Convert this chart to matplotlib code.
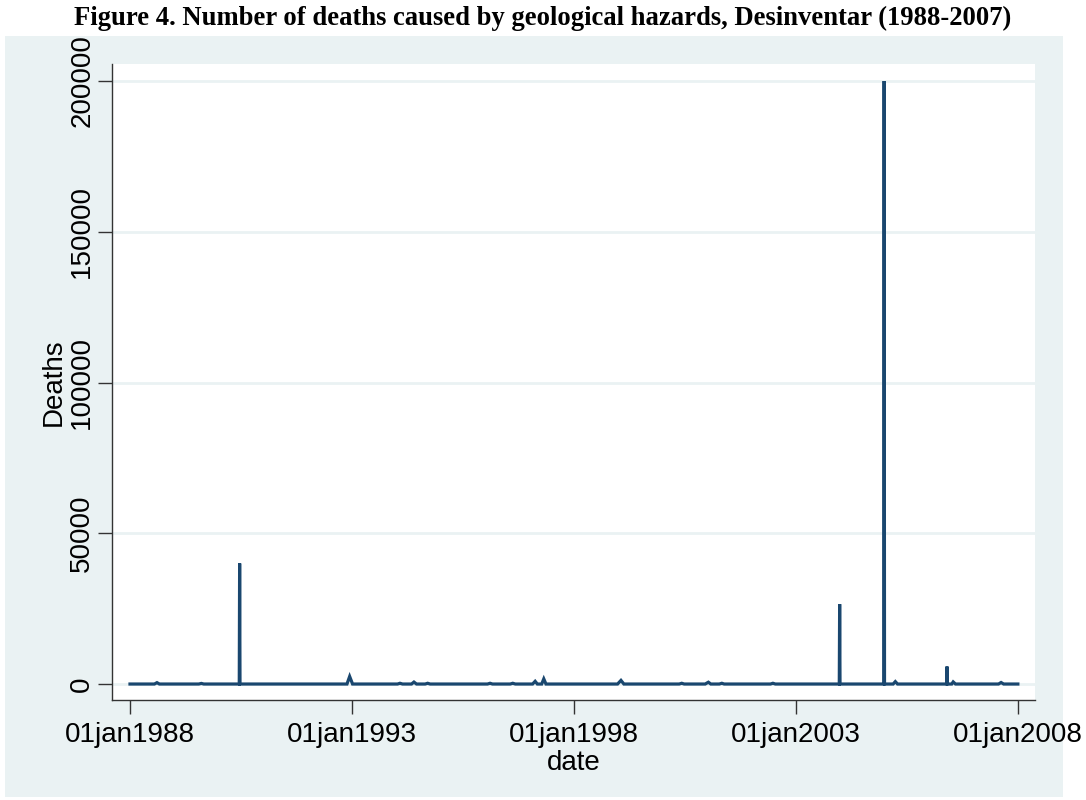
import numpy as np
import pandas as pd
import matplotlib
matplotlib.use("Agg")
import matplotlib.pyplot as plt
import matplotlib.dates as mdates
from matplotlib.patches import Rectangle

# event records (date, deaths); zero records sit around each event
rec_dates = [
    "1988-01-01",
    "1988-07-20", "1988-08-10", "1988-08-30",
    "1989-07-20", "1989-08-10", "1989-08-30",
    "1990-06-18", "1990-06-21", "1990-06-24",
    "1992-11-20", "1992-12-12", "1993-01-05",
    "1994-01-10", "1994-01-30", "1994-02-20",
    "1994-05-05", "1994-05-25", "1994-06-15",
    "1994-08-25", "1994-09-15", "1994-10-05",
    "1996-01-20", "1996-02-10", "1996-03-01",
    "1996-07-25", "1996-08-15", "1996-09-05",
    "1997-01-25", "1997-02-15", "1997-03-05",
    "1997-04-10", "1997-04-27", "1997-05-15",
    "1998-12-25", "1999-01-22", "1999-02-15",
    "2000-05-15", "2000-06-05", "2000-06-25",
    "2000-12-15", "2001-01-10", "2001-01-30",
    "2001-04-10", "2001-05-01", "2001-05-20",
    "2002-06-05", "2002-06-25", "2002-07-15",
    "2003-12-23", "2003-12-26", "2003-12-29",
    "2004-12-23", "2004-12-26", "2004-12-29",
    "2005-03-10", "2005-03-28", "2005-04-15",
    "2006-05-24", "2006-05-27", "2006-05-30",
    "2006-07-05", "2006-07-17", "2006-08-05",
    "2007-07-25", "2007-08-15", "2007-09-05",
    "2007-12-31",
]
rec_deaths = [
    0,
    0, 450, 0,
    0, 200, 0,
    0, 40000, 0,
    0, 2500, 0,
    0, 250, 0,
    0, 650, 0,
    0, 250, 0,
    0, 250, 0,
    0, 250, 0,
    0, 900, 0,
    0, 1700, 0,
    0, 1200, 0,
    0, 250, 0,
    0, 600, 0,
    0, 250, 0,
    0, 250, 0,
    0, 26500, 0,
    0, 200000, 0,
    0, 800, 0,
    0, 5800, 0,
    0, 700, 0,
    0, 500, 0,
    0,
]
tick_dates = ["1988-01-01", "1993-01-01", "1998-01-01", "2003-01-01", "2008-01-01"]
y_ticks = [0, 50000, 100000, 150000, 200000]

plt.rcParams["font.family"] = ["Liberation Sans", "DejaVu Sans"]

bg = "#eaf2f3"
navy = "#1a476f"

fig = plt.figure(figsize=(10.86, 8), dpi=100, facecolor="white")
fig.patches.append(Rectangle((5 / 1086, 3 / 800), 1058 / 1086, 761 / 800,
                             transform=fig.transFigure, facecolor=bg,
                             edgecolor="none", zorder=-10))

ax = fig.add_axes([112 / 1086, 100 / 800, 923 / 1086, 636 / 800])
ax.set_zorder(1)
ax.set_facecolor("white")

d = pd.to_datetime(rec_dates)
ax.plot(d, rec_deaths, color=navy, lw=2.3, solid_joinstyle="miter", zorder=3)

ax.set_xlim(pd.Timestamp("1987-08-06"), pd.Timestamp("2008-05-20"))
ax.set_ylim(-5300, 205650)

td = pd.to_datetime(tick_dates)
ax.set_xticks(td)
ax.set_xticklabels([t.strftime("%d%b%Y").lower() for t in td], fontsize=20)
ax.set_yticks(y_ticks)
ax.set_yticklabels([str(v) for v in y_ticks], fontsize=20, rotation=90, va="center")

ax.grid(axis="y", color=bg, lw=2, zorder=1)
ax.grid(axis="x", visible=False)
ax.tick_params(axis="both", length=10, width=1, color="#333333", direction="out")
ax.tick_params(axis="x", pad=6)
ax.tick_params(axis="y", pad=2)

for s in ["top", "right"]:
    ax.spines[s].set_visible(False)
for s in ["left", "bottom"]:
    ax.spines[s].set_color("#333333")
    ax.spines[s].set_linewidth(1)

ax.set_xlabel("date", fontsize=20, labelpad=1)
ax.set_ylabel("Deaths", fontsize=20, labelpad=2)

fig.text(0.5, 1 - 18 / 800, "Figure 4. Number of deaths caused by geological hazards, Desinventar (1988-2007)",
         ha="center", va="center", fontsize=19.2, fontweight="bold",
         family=["Liberation Serif", "DejaVu Serif"])

fig.savefig("out.png", dpi=100)
